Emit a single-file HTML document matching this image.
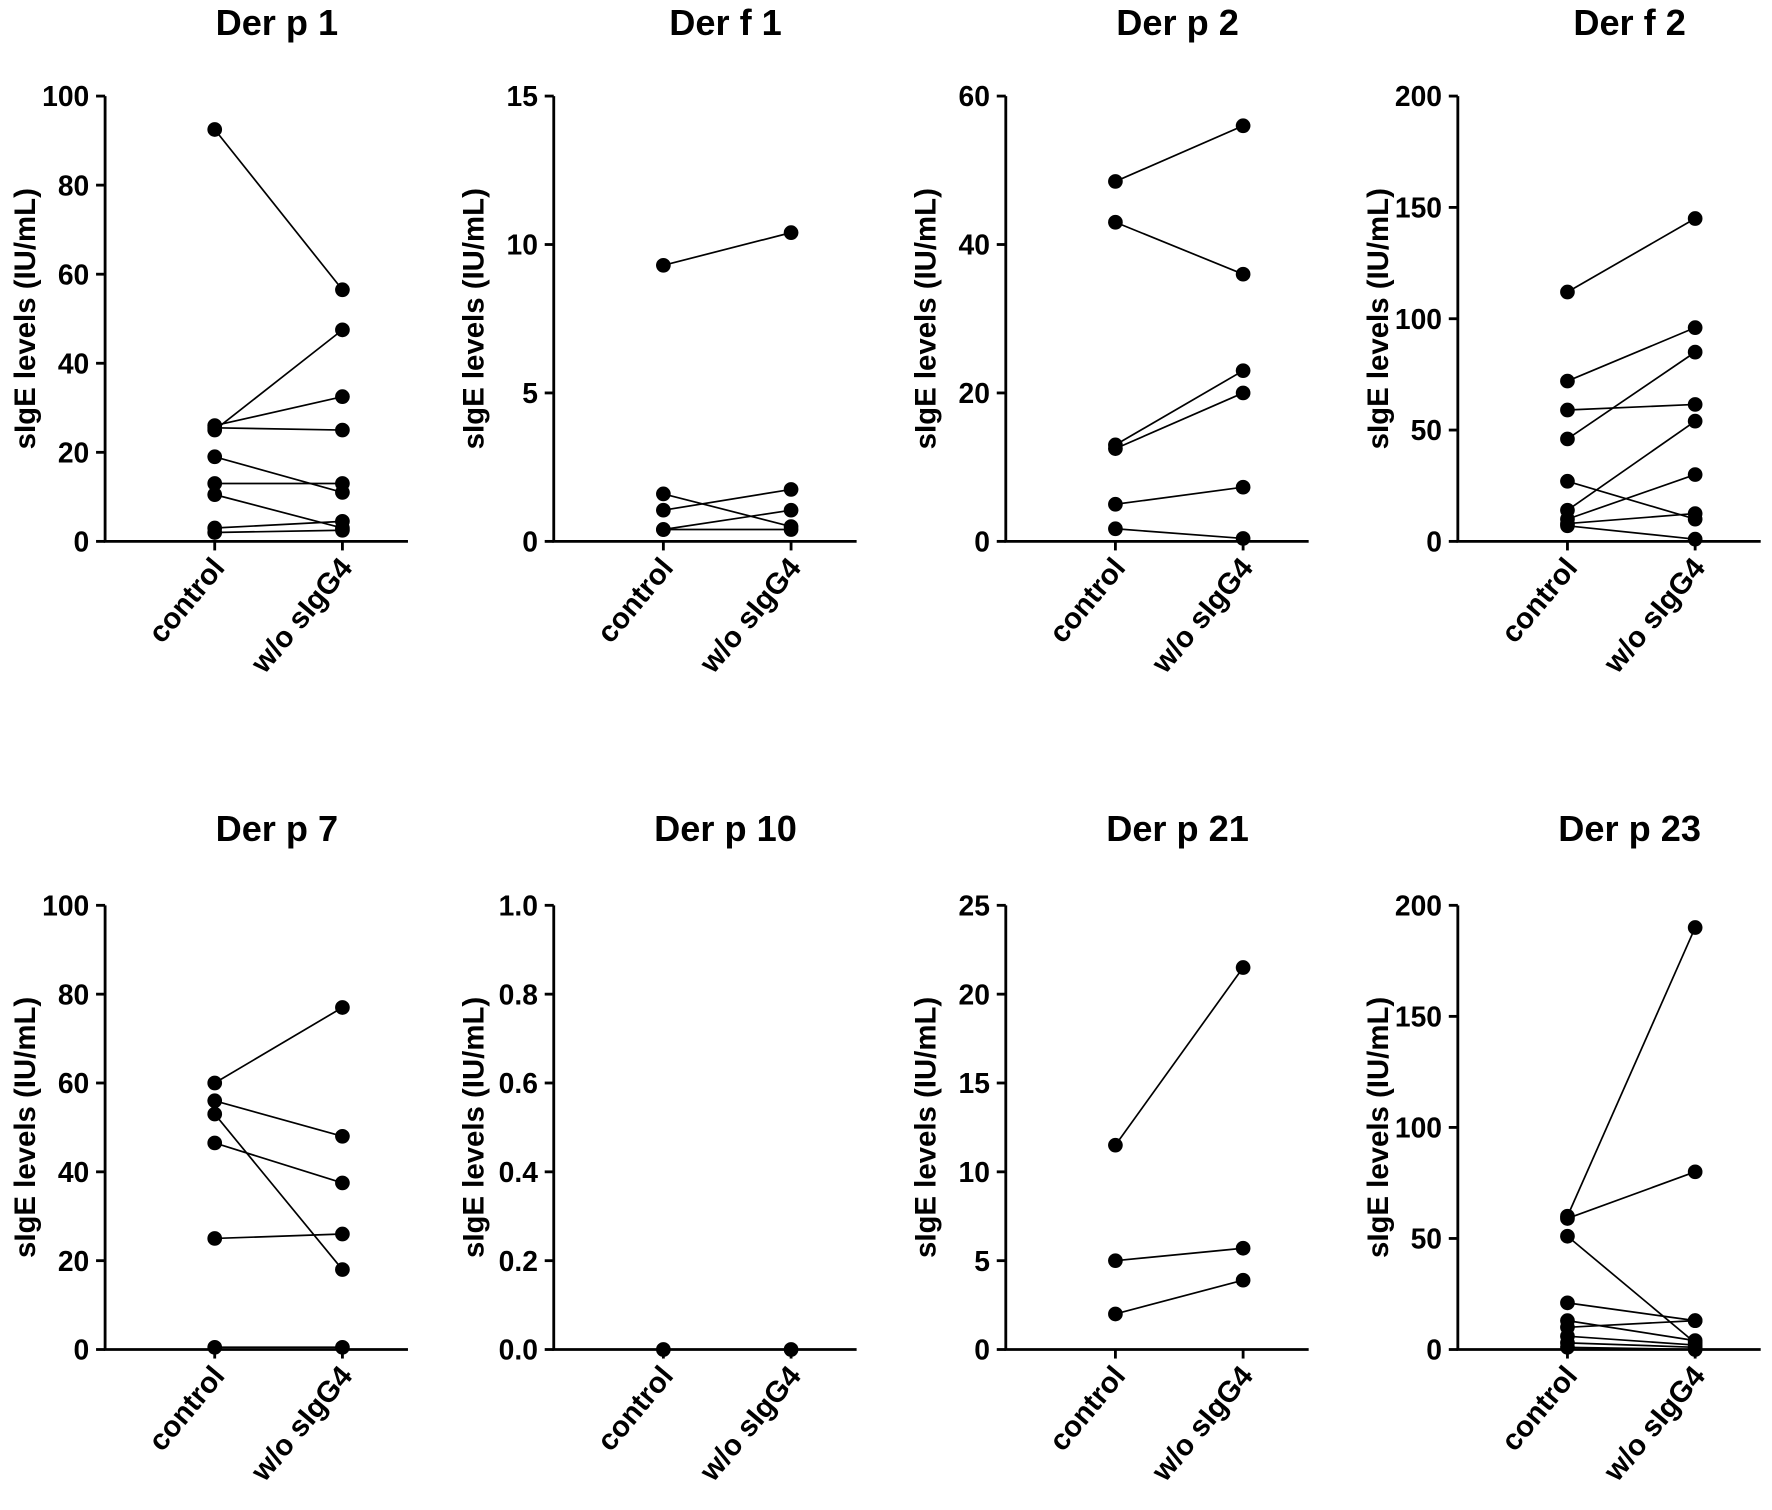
<!DOCTYPE html>
<html><head><meta charset="utf-8"><style>html,body{margin:0;padding:0;background:#fff}svg{display:block}</style></head>
<body>
<svg id="chart" xmlns="http://www.w3.org/2000/svg" width="1772" height="1510" viewBox="0 0 1568 1336" preserveAspectRatio="none" font-family="Liberation Sans, Arial, sans-serif" font-weight="bold"></svg>
<script>
const titles=["Der p 1","Der f 1","Der p 2","Der f 2","Der p 7","Der p 10","Der p 21","Der p 23"];
const yMaxes=[100,15,60,200,100,1.0,25,200];
const yTicks=[[0,20,40,60,80,100],[0,5,10,15],[0,20,40,60],[0,50,100,150,200],[0,20,40,60,80,100],[0,0.2,0.4,0.6,0.8,1.0],[0,5,10,15,20,25],[0,50,100,150,200]];
const categories=["control","w/o sIgG4"];
const controlVals=[
[92.5,25,26,25.5,19,13,10.5,3,2],
[9.3,1.6,1.05,0.4,0.4],
[48.5,43,13,12.5,5,1.7],
[112,72,59,46,27,14,10,8,7],
[60,56,53,46.5,25,0.5],
[0],
[11.5,5,2],
[60,59,51,21,13,10,6,3,1]];
const withoutVals=[
[56.5,47.5,32.5,25,11,13,3,4.5,2.5],
[10.4,0.5,1.75,1.05,0.4],
[56,36,23,20,7.3,0.4],
[145,96,61.5,85,10,54,30,12.5,1],
[77,48,18,37.5,26,0.5],
[0],
[21.5,5.7,3.9],
[190,80,3,13,4,13,2,1,0]];
const NS="http://www.w3.org/2000/svg";
const svg=document.getElementById('chart');
function mk(t,a,p){const e=document.createElementNS(NS,t);for(const k in a)e.setAttribute(k,a[k]);(p||svg).appendChild(e);return e;}
const axX=[93,490,890,1290], tops=[85,801], bots=[479,1194];
for(let i=0;i<8;i++){
  const col=i%4,row=Math.floor(i/4);
  const x0=axX[col],top=tops[row],bot=bots[row];
  const g=mk('g',{});
  
  
  const y=v=>bot-(v/yMaxes[i])*(bot-top);
  const xc=[x0+97,x0+210];
  const t=mk('text',{x:x0+152,y:row?744:31,'text-anchor':'middle','font-size':32},g);t.textContent=titles[i];
  
  const ax=mk('path',{d:`M${x0} ${top}V${bot}H${x0+268}`,stroke:'#000','stroke-width':2.5,fill:'none'},g);
  
  yTicks[i].forEach(v=>{
    mk('line',{x1:x0-8,x2:x0,y1:y(v),y2:y(v),stroke:'#000','stroke-width':2.5},g);
    const l=mk('text',{x:x0-14,y:y(v)+9,'text-anchor':'end','font-size':25},g);
    l.textContent=yMaxes[i]===1.0?v.toFixed(1):v;
    
  });
  const yl=mk('text',{transform:`translate(${x0-62},${(top+bot)/2}) rotate(-90)`,'text-anchor':'middle','font-size':26},g);
  yl.textContent='sIgE levels (IU/mL)';
  
  categories.forEach((c,k)=>{
    mk('line',{x1:xc[k],x2:xc[k],y1:bot,y2:bot+8,stroke:'#000','stroke-width':2.5},g);
    const cl=mk('text',{transform:`translate(${xc[k]+10},${bot+24}) rotate(-50)`,'text-anchor':'end','font-size':26},g);
    cl.textContent=c;
    
  });
  controlVals[i].forEach((a,j)=>{
    const b=withoutVals[i][j];
    const ln=mk('line',{x1:xc[0],y1:y(a),x2:xc[1],y2:y(b),stroke:'#000','stroke-width':1.5},g);
    
    [[xc[0],a],[xc[1],b]].forEach(p=>{
      const d=mk('circle',{cx:p[0],cy:y(p[1]),r:6.5,fill:'#000'},g);
      
    });
  });
}
</script>
</body></html>
